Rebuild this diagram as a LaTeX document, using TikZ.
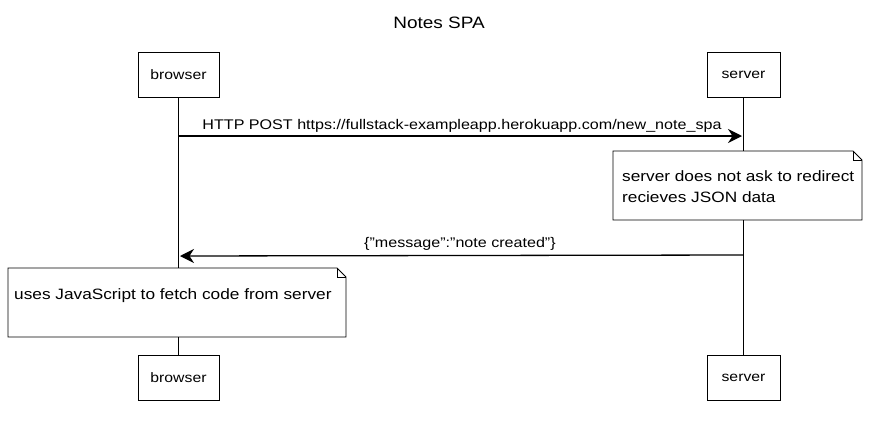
\documentclass[tikz,border=0pt]{standalone}
\usepackage{fontspec}
\setmainfont[FakeStretch=1.15]{Liberation Sans}
\usetikzlibrary{arrows.meta}
\begin{document}
\begin{tikzpicture}[x=1pt,y=-1pt,
  actor/.style={draw,line width=0.9pt,minimum width=80pt,minimum height=45pt,inner sep=0pt,font=\fontsize{13.7}{15}\selectfont},
  lifeline/.style={line width=0.8pt},
  msg/.style={line width=1.3pt,-{Stealth[length=14pt,width=14pt]}},
  msglabel/.style={font=\fontsize{14}{16}\selectfont,inner sep=0pt,anchor=base},
  notetext/.style={font=\fontsize{15}{21}\selectfont,align=left,anchor=base west,inner sep=0pt}]
\useasboundingbox (0,0) rectangle (879,421);
% actors
\node[actor,minimum width=81pt] (bt) at (178.5,74.5) {browser};
\node[actor,minimum width=73pt] (st) at (743.5,74.5) {server};
\node[actor,minimum width=81pt] (bb) at (178.5,377.5) {browser};
\node[actor,minimum width=73pt] (sb) at (743.5,377.5) {server};
% lifelines
\draw[lifeline] (bt.south) -- (bb.north);
\draw[lifeline] (st.south) -- (sb.north);
% title
\node[font=\fontsize{16.5}{18}\selectfont,anchor=base] (title) at (439,28) {Notes SPA};
% message 1
\coordinate (m1s) at (179,136);
\coordinate (m1e) at (742,136);
\draw[msg] (m1s) -- (m1e);
\node[msglabel] (l1) at (462,129) {HTTP POST https://fullstack-exampleapp.herokuapp.com/new\_note\_spa};
% note on server
\fill[white] (613,151) rectangle (862,220);
\draw[line width=0.9pt] (613,151) -- (853,151) -- (862,160) -- (862,220) -- (613,220) -- cycle;
\draw[line width=0.6pt] (853,151) -- (853,160) -- (862,160);
\node[notetext] (n1) at (622,202) {server does not ask to redirect\\recieves JSON data};
% message 2
\coordinate (m2s) at (743,255);
\coordinate (m2e) at (180,256);
\draw[msg] (m2s) -- (m2e);
\node[msglabel] (l2) at (460,247) {\{"message":"note created"\}};
% note on browser
\fill[white] (8,268) rectangle (346,337);
\draw[line width=0.9pt] (8,268) -- (337,268) -- (346,277) -- (346,337) -- (8,337) -- cycle;
\draw[line width=0.6pt] (337,268) -- (337,277) -- (346,277);
\node[notetext] (n2) at (14,299) {uses JavaScript to fetch code from server};
\end{tikzpicture}
\end{document}
